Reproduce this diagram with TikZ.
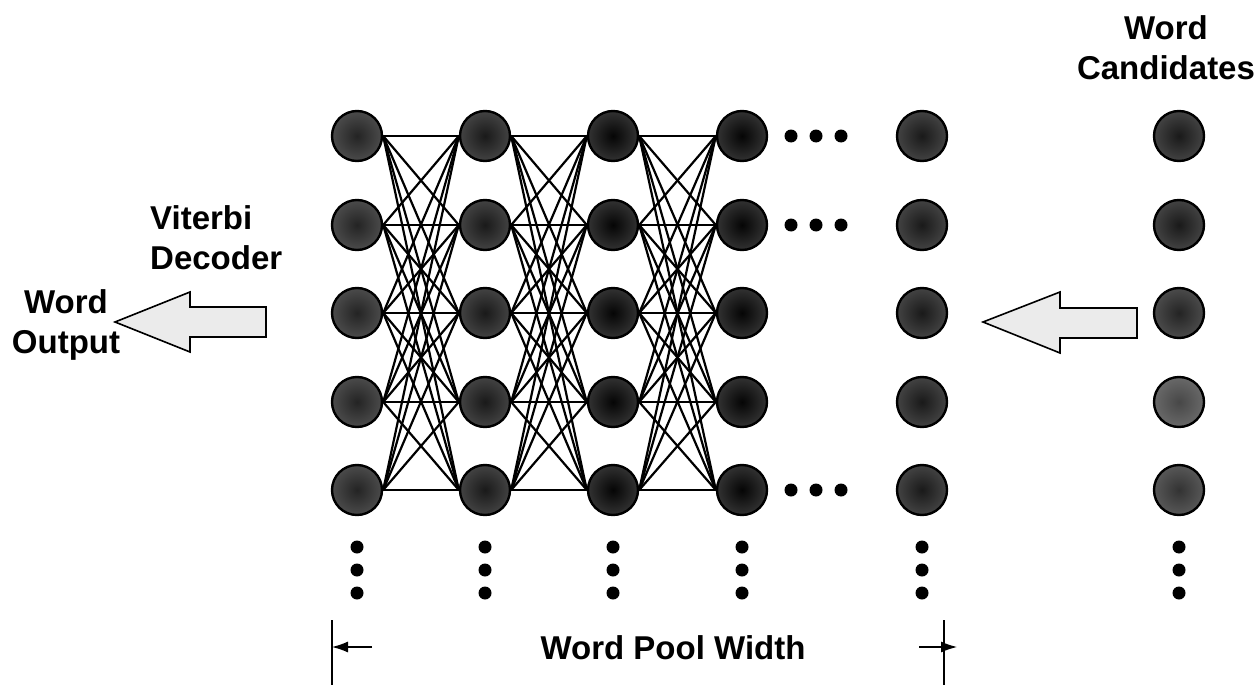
\documentclass[tikz,border=0pt]{standalone}
\usepackage{fontspec}
\setmainfont{Liberation Sans}
\usetikzlibrary{arrows.meta}

\colorlet{toneA}{black!86}
\colorlet{toneB}{black!90}
\colorlet{toneC}{black!98}
\colorlet{toneD}{black!80}
\colorlet{toneE}{black!72}
\colorlet{hollow}{black!8}

\tikzset{
	state/.style = {circle, draw, line width = 2.4pt, minimum size = 50pt, inner sep = 0pt,
		inner color = #1, outer color = #1!82!white},
	edge/.style = {line width = 2.2pt},
	dot/.style = {circle, fill, inner sep = 0pt, minimum size = 13pt},
	wordtext/.style = {font = \fontsize{33}{40}\selectfont\bfseries, inner sep = 0pt},
	fatarrow/.style = {draw, line width = 1.6pt, fill = hollow, line join = miter},
	measure/.style = {line width = 1.2pt}
}

\begin{document}
\begin{tikzpicture}[x = 1pt, y = -1pt]
					\useasboundingbox (0,0) rectangle (1259,685);

					\def\rowA{136};
					\def\rowB{225};
					\def\rowC{313};
					\def\rowD{402};
					\def\rowE{490};

					\foreach \c/\x/\tone in {1/357/toneA, 2/485/toneB, 3/613/toneC, 4/742/toneC, 5/922/toneB}
						\foreach \r/\y in {1/\rowA, 2/\rowB, 3/\rowC, 4/\rowD, 5/\rowE}
							\node [state = \tone] (n\c\r) at (\x,\y) {};

					\foreach \r/\y/\tone in {1/\rowA/toneB, 2/\rowB/toneB, 3/\rowC/toneA, 4/\rowD/toneE, 5/\rowE/toneD}
						\node [state = \tone] (n6\r) at (1179,\y) {};

					\begin{scope}[edge]
						\foreach \a/\b in {1/2, 2/3, 3/4}
							\foreach \i in {1,...,5}
								\foreach \j in {1,...,5}
									\draw (n\a\i.east) -- (n\b\j.west);
					\end{scope}

					\foreach \r/\y in {1/\rowA, 2/\rowB, 5/\rowE}
						\foreach \k/\x in {1/791, 2/816, 3/841}
							\node [dot] (h\r\k) at (\x,\y) {};

					\foreach \c/\x in {1/357, 2/485, 3/613, 4/742, 5/922, 6/1179}
						\foreach \k/\y in {1/547, 2/570, 3/593}
							\node [dot] (v\c\k) at (\x,\y) {};

					\coordinate (outTip) at (115,322);
					\coordinate (inTip) at (983,322);
					\draw [fatarrow] (outTip) -- ++(75,-30) -- ++(0,15) -- ++(76,0) -- ++(0,30) -- ++(-76,0) -- ++(0,15) -- cycle;
					\draw [fatarrow] (inTip) -- ++(77,-30) -- ++(0,16) -- ++(77,0) -- ++(0,30) -- ++(-77,0) -- ++(0,15) -- cycle;

					\node [wordtext, align = left, anchor = west] (viterbi) at (150,238) {Viterbi\\Decoder};
					\node [wordtext, align = center] (output) at (66,325) {Word\\Output};
					\node [wordtext, align = center] (cands) at (1166,48) {Word\\Candidates};
					\node [wordtext] (pool) at (673,648) {Word Pool Width};

					\begin{scope}[measure]
						\coordinate (poolLT) at (332,620);
						\coordinate (poolLB) at (332,685);
						\coordinate (poolRT) at (944,620);
						\coordinate (poolRB) at (944,685);
						\coordinate (poolLA) at (372,647);
						\coordinate (poolRA) at (919,647);
						\draw (poolLT) -- (poolLB);
						\draw (poolRT) -- (poolRB);
						\draw [-{Latex[length = 16pt, width = 11pt]}] (poolLA) -- (poolLT |- poolLA);
						\draw [-{Latex[length = 16pt, width = 11pt]}] (poolRA) -- ++(38,0);
					\end{scope}
				\end{tikzpicture}
\end{document}
